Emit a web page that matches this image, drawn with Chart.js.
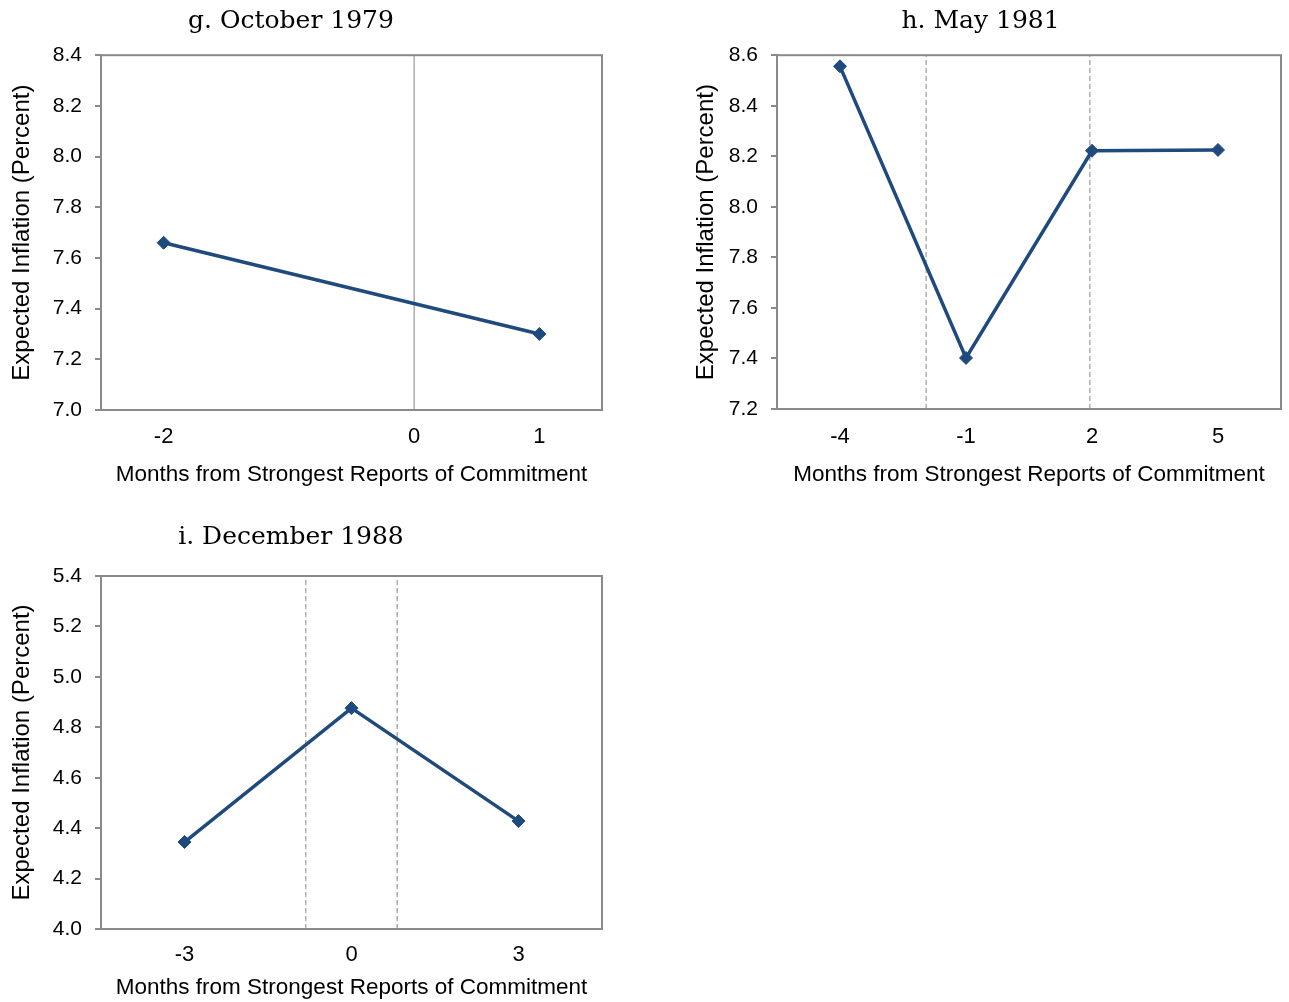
<!DOCTYPE html>
<html>
<head>
<meta charset="utf-8">
<script src="https://cdn.jsdelivr.net/npm/chart.js@4.4.1/dist/chart.umd.min.js"></script>
<style>
  html, body { margin:0; padding:0; background:#fff; overflow:hidden; }
  body { position:relative; width:1289px; height:1002px; }
  canvas { position:absolute; }
</style>
</head>
<body>
<canvas id="cg" width="634" height="490" style="left:-20px;top:0px;"></canvas>
<canvas id="ch" width="680" height="490" style="left:680px;top:0px;"></canvas>
<canvas id="ci" width="634" height="486" style="left:-20px;top:516px;"></canvas>
<script>
// ---- Data ----
const gTitle = 'g. October 1979';
const gMonths = [-2, 1];
const gValues = [7.66, 7.30];
const gXTicks = [-2, 0, 1];
const gYTicks = [7.0, 7.2, 7.4, 7.6, 7.8, 8.0, 8.2, 8.4];
const gRefLines = [0];

const hTitle = 'h. May 1981';
const hMonths = [-4, -1, 2, 5];
const hValues = [8.556, 7.402, 8.222, 8.225];
const hXTicks = [-4, -1, 2, 5];
const hYTicks = [7.2, 7.4, 7.6, 7.8, 8.0, 8.2, 8.4, 8.6];
const hRefLines = [-1.95, 1.95];

const iTitle = 'i. December 1988';
const iMonths = [-3, 0, 3];
const iValues = [4.345, 4.876, 4.428];
const iXTicks = [-3, 0, 3];
const iYTicks = [4.0, 4.2, 4.4, 4.6, 4.8, 5.0, 5.2, 5.4];
const iRefLines = [-0.82, 0.82];

const xAxisTitle = 'Months from Strongest Reports of Commitment';
const yAxisTitle = 'Expected Inflation (Percent)';

// ---- Style ----
const SERIES_COLOR = '#1f4a7e';
const AXIS_COLOR = '#8a8a8a';
const SANS = '"Liberation Sans", Arial, sans-serif';
const SERIF = '"DejaVu Serif", Georgia, serif';

const boxPlugin = {
  id: 'plotBox',
  beforeDatasetsDraw(chart) {
    const a = chart.chartArea, ctx = chart.ctx;
    ctx.save();
    ctx.strokeStyle = AXIS_COLOR;
    ctx.lineWidth = 2;
    ctx.strokeRect(a.left, a.top, a.right - a.left, a.bottom - a.top);
    ctx.restore();
  }
};

function makeChart(id, o) {
  const yMin = o.yTicks[0], yMax = o.yTicks[o.yTicks.length - 1];
  const datasets = [{
    data: o.months.map((m, k) => ({x: m, y: o.values[k]})),
    borderColor: SERIES_COLOR,
    backgroundColor: SERIES_COLOR,
    borderWidth: 3.5,
    pointStyle: 'rectRot',
    pointRadius: 6.5,
    pointBorderWidth: 1,
    showLine: true,
    tension: 0
  }];
  o.refLines.forEach(v => {
    datasets.push({
      data: [{x: v, y: yMin}, {x: v, y: yMax}],
      borderColor: '#858585',
      borderWidth: 1,
      borderDash: o.dashed ? [5, 3] : [],
      pointRadius: 0,
      showLine: true
    });
  });
  return new Chart(document.getElementById(id), {
    type: 'scatter',
    data: { datasets },
    plugins: [boxPlugin],
    options: {
      responsive: false,
      animation: false,
      devicePixelRatio: 1,
      layout: { padding: { left: 0, right: o.padRight, top: 0, bottom: 0 } },
      plugins: {
        legend: { display: false },
        tooltip: { enabled: false },
        title: {
          display: true,
          text: o.title,
          color: '#000',
          font: { family: SERIF, size: 25, weight: 'normal', lineHeight: 1.2 },
          padding: { top: 6, bottom: o.titleBottom }
        }
      },
      scales: {
        x: {
          type: 'linear',
          min: o.xMin, max: o.xMax,
          afterBuildTicks: s => { s.ticks = o.xTicks.map(v => ({value: v})); },
          afterFit: s => { s.height = o.xAxisHeight; },
          ticks: {
            color: '#000',
            font: { family: SANS, size: 22 },
            padding: o.xTickPad,
            maxRotation: 0,
            autoSkip: false,
            callback: v => String(v)
          },
          grid: { display: false, drawTicks: false },
          border: { display: true, color: AXIS_COLOR, width: 2 },
          title: {
            display: true,
            text: xAxisTitle,
            color: '#000',
            font: { family: SANS, size: 22.5 },
            padding: { top: 4, bottom: o.xTitleBottom }
          }
        },
        y: {
          type: 'linear',
          min: yMin, max: yMax,
          afterBuildTicks: s => { s.ticks = o.yTicks.map(v => ({value: v})); },
          afterFit: s => { s.width = o.yAxisWidth; },
          ticks: {
            color: '#000',
            font: { family: SANS, size: 21 },
            padding: 13,
            callback: v => Number(v).toFixed(1)
          },
          grid: {
            display: true,
            drawOnChartArea: false,
            drawTicks: true,
            tickLength: 6,
            color: AXIS_COLOR,
            lineWidth: 2
          },
          border: { display: true, color: AXIS_COLOR, width: 2 },
          title: {
            display: true,
            text: yAxisTitle,
            color: '#000',
            font: { family: SANS, size: 24 },
            padding: { top: o.yTitleTop, bottom: 0 }
          }
        }
      }
    }
  });
}

makeChart('cg', {
  title: gTitle, months: gMonths, values: gValues, xTicks: gXTicks, yTicks: gYTicks,
  refLines: gRefLines, dashed: false, xMin: -2.5, xMax: 1.5,
  padRight: 12, yAxisWidth: 121, yTitleTop: 27.6, titleBottom: 19.2,
  xAxisHeight: 80, xTickPad: 14, xTitleBottom: 1.5
});
makeChart('ch', {
  title: hTitle, months: hMonths, values: hValues, xTicks: hXTicks, yTicks: hYTicks,
  refLines: hRefLines, dashed: true, xMin: -5.5, xMax: 6.5,
  padRight: 79, yAxisWidth: 97, yTitleTop: 11.6, titleBottom: 19.2,
  xAxisHeight: 81, xTickPad: 15, xTitleBottom: 1.5
});
makeChart('ci', {
  title: iTitle, months: iMonths, values: iValues, xTicks: iXTicks, yTicks: iYTicks,
  refLines: iRefLines, dashed: true, xMin: -4.5, xMax: 4.5,
  padRight: 12, yAxisWidth: 121, yTitleTop: 27.6, titleBottom: 24,
  xAxisHeight: 73, xTickPad: 13, xTitleBottom: 0.5
});
</script>
</body>
</html>
